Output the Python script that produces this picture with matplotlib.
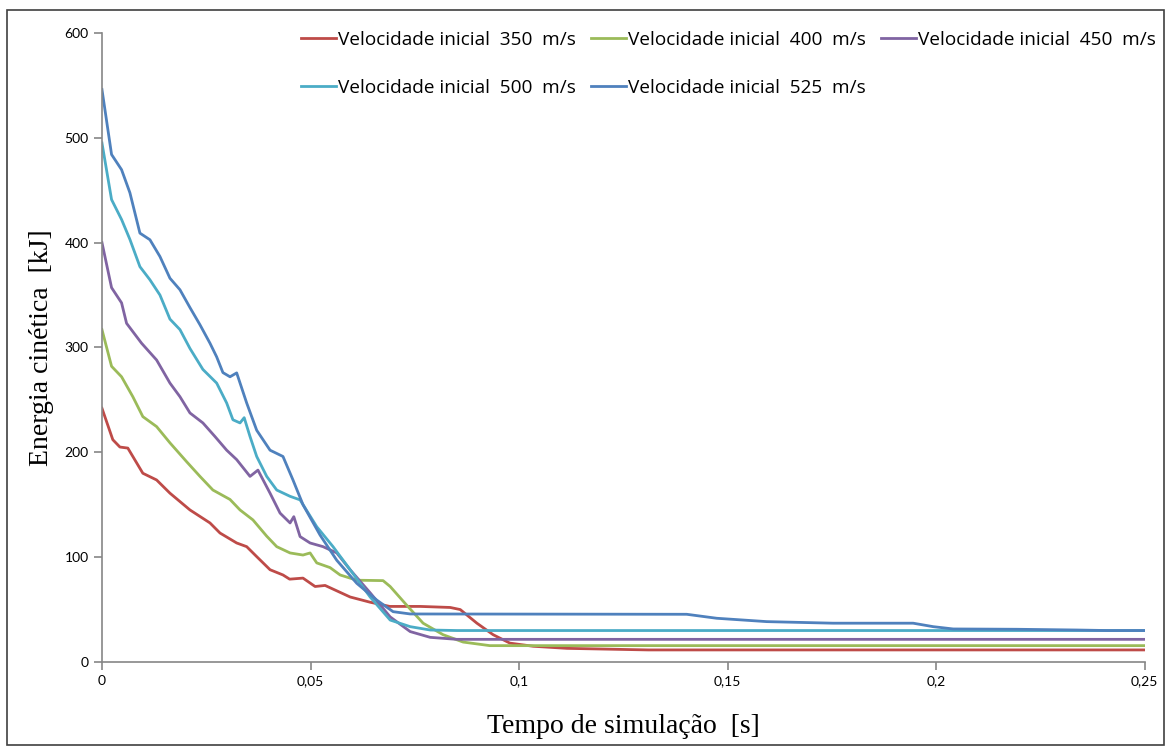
import matplotlib.pyplot as plt
from matplotlib.patches import Rectangle

# tempo [s] e energia cinética [kJ] para cada velocidade inicial
t_350 = [0, 0.0026, 0.0043, 0.0062, 0.0074, 0.0098, 0.0131, 0.0163, 0.0211, 0.0259, 0.0283,
         0.0323, 0.0347, 0.0371, 0.0403, 0.0434, 0.045, 0.0482, 0.0511, 0.0535, 0.0595, 0.0643,
         0.069, 0.0763, 0.0835, 0.0859, 0.0899, 0.0938, 0.0978, 0.1034, 0.1115, 0.131, 0.25]
e_350 = [242, 212, 205, 204, 196, 180, 173.6, 161, 145, 132.6, 123,
         113.5, 110, 100.5, 88, 83, 79, 80, 72, 73, 62, 57,
         53, 53, 52, 50, 37, 26, 18, 15, 13, 11.5, 11.5]

t_400 = [0, 0.0023, 0.0047, 0.0074, 0.0098, 0.0131, 0.0163, 0.0203, 0.0235, 0.0266, 0.0307,
         0.0331, 0.0362, 0.0395, 0.0419, 0.0451, 0.0482, 0.0499, 0.0515, 0.0547, 0.0571, 0.0611,
         0.0674, 0.0691, 0.0731, 0.077, 0.0818, 0.0866, 0.093, 0.25]
e_400 = [317, 282, 272, 253, 234, 224.5, 209, 191, 177, 164, 155,
         145, 135.5, 120, 110, 104, 102, 104, 94.5, 90, 83, 78,
         77.6, 72, 54, 37, 26, 19, 15.6, 15.6]

t_450 = [0, 0.0023, 0.0047, 0.0059, 0.0095, 0.0131, 0.0163, 0.0187, 0.0211, 0.0242, 0.0271,
         0.0299, 0.0323, 0.0355, 0.0374, 0.0403, 0.0427, 0.0451, 0.046, 0.0475, 0.0499, 0.053,
         0.0563, 0.0595, 0.0643, 0.0691, 0.0739, 0.0787, 0.0851, 0.25]
e_450 = [400, 357, 342.5, 323, 304, 288, 266, 253, 237.5, 228, 215,
         202, 193, 177, 183, 161, 142, 132.6, 138.6, 119.6, 113.5, 110,
         104, 88, 66, 43, 29, 23.5, 21.6, 21.6]

t_500 = [0, 0.0023, 0.0047, 0.0067, 0.0091, 0.0115, 0.0139, 0.0163, 0.0187, 0.0211, 0.0242,
         0.0275, 0.0299, 0.0314, 0.0331, 0.0341, 0.0355, 0.0371, 0.0395, 0.0419, 0.0451, 0.0475,
         0.0515, 0.0554, 0.0595, 0.0643, 0.0691, 0.0739, 0.0787, 0.0851, 0.25]
e_500 = [495, 441, 422, 403, 377, 364.5, 350, 327, 317, 299, 279,
         266, 247, 231, 228, 233, 215, 196, 177, 164, 158, 154.6,
         129, 110, 88, 62, 40, 33.7, 30.5, 30, 30]

t_525 = [0, 0.0023, 0.0047, 0.0067, 0.0091, 0.0115, 0.0139, 0.0163, 0.0187, 0.0211, 0.0235,
         0.0259, 0.0275, 0.029, 0.0307, 0.0323, 0.0347, 0.0371, 0.0403, 0.0434, 0.0458, 0.0482,
         0.0523, 0.0563, 0.0611, 0.0659, 0.0698, 0.0739, 0.1402, 0.1474, 0.1594, 0.1753, 0.1945,
         0.1993, 0.2041, 0.2194, 0.2338, 0.241, 0.25]
e_525 = [546, 484, 469.5, 447.5, 409, 402.7, 386.7, 366, 355, 338, 321.6,
         304, 291, 276, 272, 275.7, 247, 221, 202, 196, 173.6, 150,
         121, 97, 75, 59, 48, 45.8, 45.5, 41.7, 38.5, 37, 37,
         33.7, 31.5, 31.2, 30.5, 30, 30]

series = [
    (t_350, e_350, "Velocidade inicial  350  m/s", "#BE4B48"),
    (t_400, e_400, "Velocidade inicial  400  m/s", "#9BBB59"),
    (t_450, e_450, "Velocidade inicial  450  m/s", "#8064A2"),
    (t_500, e_500, "Velocidade inicial  500  m/s", "#4BACC6"),
    (t_525, e_525, "Velocidade inicial  525  m/s", "#4F81BD"),
]

x_ticks = [0, 0.05, 0.1, 0.15, 0.2, 0.25]
x_labels = ["0", "0,05", "0,1", "0,15", "0,2", "0,25"]
y_ticks = [0, 100, 200, 300, 400, 500, 600]

plt.rcParams['font.family'] = ['Lato', 'DejaVu Sans']

fig = plt.figure(figsize=(11.68, 7.47), dpi=100)
ax = fig.add_axes([0.0873, 0.1138, 0.8927, 0.8422])

lines = []
for t, e, lab, c in series:
    ln, = ax.plot(t, e, color=c, lw=2, label=lab)
    lines.append(ln)

ax.set_xlim(0, 0.25)
ax.set_ylim(0, 600)
ax.set_xticks(x_ticks)
ax.set_xticklabels(x_labels)
ax.set_yticks(y_ticks)
ax.tick_params(colors="#868686", labelcolor="black", labelsize=10, length=6, width=1.2)
for s in ["top", "right"]:
    ax.spines[s].set_visible(False)
for s in ["left", "bottom"]:
    ax.spines[s].set_color("#868686")
    ax.spines[s].set_linewidth(1.2)

ax.set_ylabel("Energia cinética  [kJ]", family="Liberation Serif", fontsize=20, labelpad=8)
ax.set_xlabel("Tempo de simulação  [s]", family="Liberation Serif", fontsize=20, labelpad=19)

# ordem para preencher o legend por linhas (3 colunas)
order = [0, 3, 1, 4, 2]
ax.legend([lines[i] for i in order], [series[i][2] for i in order],
          ncol=3, loc="upper right", bbox_to_anchor=(1.027, 1.03), frameon=False,
          prop={"family": "Open Sans", "size": 13.7}, handlelength=1.84,
          handletextpad=0.1, columnspacing=0.8, labelspacing=1.55)

fig.patches.append(Rectangle((0.006, 0.003), 0.991, 0.984, transform=fig.transFigure,
                             fill=False, edgecolor="#404040", lw=1.2))

plt.savefig("out.png", dpi=100)
